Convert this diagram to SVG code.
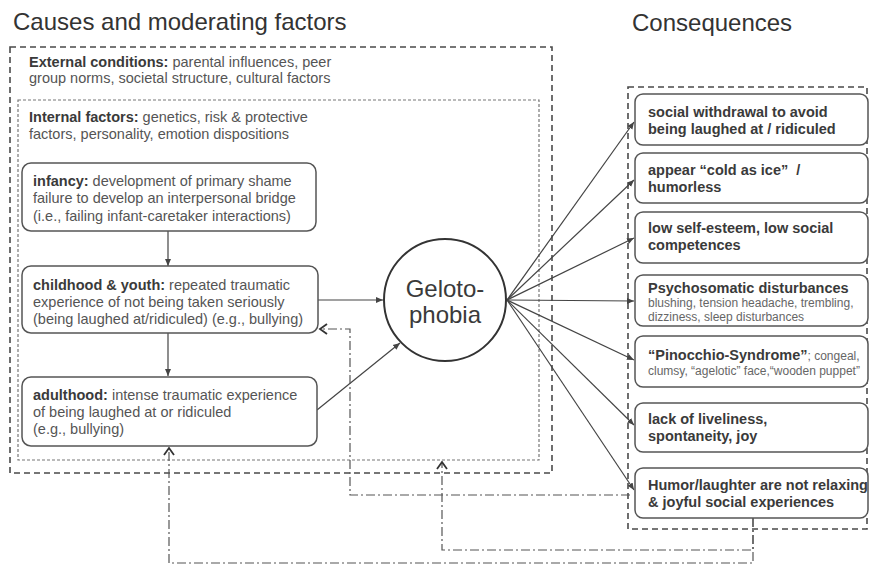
<svg xmlns="http://www.w3.org/2000/svg" width="870" height="564" viewBox="0 0 870 564">
<style>
text{font-family:"Liberation Sans",Arial,sans-serif;fill:#3a3a3a}
.title{font-size:24px;fill:#333}
.t{font-size:14.5px;fill:#555}
.b{font-weight:bold;fill:#3a3a3a}
.cb{font-size:14.5px;font-weight:bold;fill:#3a3a3a}
.sm{font-size:12px;font-weight:normal;fill:#666}
.box{fill:#fff;stroke:#555;stroke-width:1.5}
.outer{fill:none;stroke:#4a4a4a;stroke-width:1.6;stroke-dasharray:6 4}
.inner{fill:none;stroke:#777;stroke-width:1.2;stroke-dasharray:3 2}
.arr{fill:none;stroke:#444;stroke-width:1.2;marker-end:url(#ah)}
.fba{fill:none;stroke:#555;stroke-width:1.2;stroke-dasharray:9 3 2 3;marker-end:url(#open)}
</style>
<defs>
<marker id="ah" markerWidth="8" markerHeight="8" refX="7" refY="4" orient="auto" markerUnits="userSpaceOnUse">
<path d="M0,1 L7,4 L0,7 Z" fill="#444"/>
</marker>
<marker id="open" markerWidth="12" markerHeight="12" refX="10" refY="6" orient="auto" markerUnits="userSpaceOnUse">
<path d="M3,1 L10,6 L3,11" fill="none" stroke="#333" stroke-width="1.8"/>
</marker>
</defs>

<text class="title" x="13" y="30">Causes and moderating factors</text>
<text class="title" x="632" y="31">Consequences</text>

<g id="external">
<rect class="outer" x="10" y="47" width="542" height="426"/>
<text class="t" x="29" y="67"><tspan class="b">External conditions:</tspan> parental influences, peer</text>
<text class="t" x="29" y="83">group norms, societal structure, cultural factors</text>
</g>

<g id="internal">
<rect class="inner" x="18" y="100" width="521" height="360"/>
<text class="t" x="29" y="122"><tspan class="b">Internal factors:</tspan> genetics, risk &amp; protective</text>
<text class="t" x="29" y="139">factors, personality, emotion dispositions</text>
</g>

<g id="consequences-box">
<rect class="outer" x="628" y="87" width="239" height="442"/>
</g>

<g id="connectors">
<path class="arr" d="M168,231 L168,266"/>
<path class="arr" d="M168,333 L168,376"/>
<path class="arr" d="M318,300 L383,300"/>
<path class="arr" d="M317,410 L400,343"/>
<path class="arr" d="M507,300 L634,122"/>
<path class="arr" d="M507,300 L634,180"/>
<path class="arr" d="M507,300 L634,238"/>
<path class="arr" d="M507,300 L634,301"/>
<path class="arr" d="M507,300 L634,360"/>
<path class="arr" d="M507,300 L634,425"/>
<path class="arr" d="M507,300 L634,490"/>
<path class="fba" d="M630,495 L350,495 L350,329 L320,329"/>
<path class="fba" d="M753,518 L753,550 L442,550 L442,462"/>
<path class="fba" d="M753,518 L753,563 L169,563 L169,448"/>
</g>

<g id="infancy">
<rect class="box" x="22" y="163" width="294" height="68" rx="9"/>
<text class="t" x="33" y="186"><tspan class="b">infancy:</tspan> development of primary shame</text>
<text class="t" x="33" y="203">failure to develop an interpersonal bridge</text>
<text class="t" x="33" y="221">(i.e., failing infant-caretaker interactions)</text>
</g>

<g id="childhood">
<rect class="box" x="22" y="266" width="296" height="67" rx="9"/>
<text class="t" x="33" y="290"><tspan class="b">childhood &amp; youth:</tspan> repeated traumatic</text>
<text class="t" x="33" y="307">experience of not being taken seriously</text>
<text class="t" x="33" y="324">(being laughed at/ridiculed) (e.g., bullying)</text>
</g>

<g id="adulthood">
<rect class="box" x="22" y="377" width="295" height="69" rx="9"/>
<text class="t" x="33" y="400"><tspan class="b">adulthood:</tspan> intense traumatic experience</text>
<text class="t" x="33" y="417">of being laughed at or ridiculed</text>
<text class="t" x="33" y="434">(e.g., bullying)</text>
</g>

<g id="gelotophobia">
<circle cx="445" cy="300" r="61" fill="#fff" stroke="#333" stroke-width="2"/>
<text x="445" y="297" text-anchor="middle" font-size="24" fill="#444">Geloto-</text>
<text x="445" y="323" text-anchor="middle" font-size="24" fill="#444">phobia</text>
</g>

<g id="c1">
<rect class="box" x="635" y="94" width="233" height="51" rx="8"/>
<text class="cb" x="648" y="117">social withdrawal to avoid</text>
<text class="cb" x="648" y="134">being laughed at / ridiculed</text>
</g>
<g id="c2">
<rect class="box" x="635" y="153" width="233" height="50" rx="8"/>
<text class="cb" x="648" y="175">appear “cold as ice”&#160; /</text>
<text class="cb" x="648" y="192">humorless</text>
</g>
<g id="c3">
<rect class="box" x="635" y="212" width="233" height="51" rx="8"/>
<text class="cb" x="648" y="233">low self-esteem, low social</text>
<text class="cb" x="648" y="250">competences</text>
</g>
<g id="c4">
<rect class="box" x="635" y="275" width="233" height="51" rx="8"/>
<text class="cb" x="648" y="293">Psychosomatic disturbances</text>
<text class="sm" x="648" y="307">blushing, tension headache, trembling,</text>
<text class="sm" x="648" y="321">dizziness, sleep disturbances</text>
</g>
<g id="c5">
<rect class="box" x="635" y="336" width="233" height="51" rx="8"/>
<text class="cb" x="648" y="360">“Pinocchio-Syndrome”<tspan class="sm">; congeal,</tspan></text>
<text class="sm" x="648" y="375">clumsy, “agelotic” face,“wooden puppet”</text>
</g>
<g id="c6">
<rect class="box" x="635" y="403" width="233" height="49" rx="8"/>
<text class="cb" x="648" y="424">lack of liveliness,</text>
<text class="cb" x="648" y="441">spontaneity, joy</text>
</g>
<g id="c7">
<rect class="box" x="635" y="468" width="233" height="50" rx="8"/>
<text class="cb" x="648" y="490">Humor/laughter are not relaxing</text>
<text class="cb" x="648" y="507">&amp; joyful social experiences</text>
</g>
</svg>
